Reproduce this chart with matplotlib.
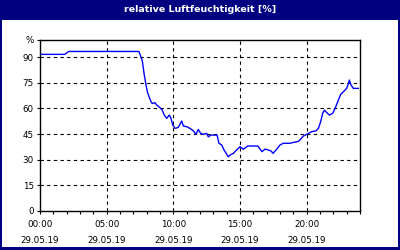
import matplotlib
matplotlib.use("Agg")
import matplotlib.pyplot as plt
from matplotlib.patches import Rectangle
from matplotlib.ticker import MultipleLocator

# hours since 00:00 on 29.05.19 and relative humidity in %
hours = [0, 1.85, 2.15, 7.42, 7.67, 7.8, 7.93, 8.05, 8.18, 8.33, 8.42, 8.63, 8.75,
         9.0, 9.17, 9.32, 9.5, 9.7, 9.83, 9.95, 10.13, 10.37, 10.63, 10.75, 11.0,
         11.25, 11.5, 11.7, 11.87, 12.05, 12.25, 12.5, 12.62, 12.83, 13.28, 13.42,
         13.63, 13.8, 14.12, 14.25, 14.5, 14.75, 15.0, 15.25, 15.58, 16.33, 16.65,
         16.88, 17.1, 17.33, 17.48, 17.75, 18.0, 18.25, 18.75, 19.0, 19.25, 19.4,
         19.75, 20.13, 20.38, 20.7, 20.88, 21.05, 21.2, 21.33, 21.45, 21.7, 21.95,
         22.13, 22.33, 22.55, 22.75, 23.0, 23.13, 23.2, 23.33, 23.5, 23.87]
humidity = [91.6, 91.6, 93.3, 93.3, 88, 80.6, 74.6, 69.7, 66.8, 63.9, 62.9, 63.3, 62,
            60.4, 59, 56.1, 54.2, 56.1, 54.2, 50.3, 48.3, 48.9, 52.6, 49.7, 49.3,
            48.3, 46.9, 44.8, 47.7, 45.4, 44.8, 45.4, 43.4, 44.4, 44.4, 39.6,
            38.6, 35.7, 31.7, 32.7, 33.7, 35.7, 37.6, 36.1, 38, 38, 34.7,
            36.2, 35.7, 35.1, 33.7, 36.1, 38.6, 39.6, 39.6, 40.1, 40.5, 40.8,
            43.8, 45.4, 46.4, 46.9, 48.3, 52.2, 57.1, 59, 58, 56.1, 57.1,
            60, 63.9, 68.2, 69.7, 71.7, 74.6, 76.6, 73.6, 71.7, 71.7]

x_ticks = [0, 5, 10, 15, 20]
x_labels = ["00:00\n29.05.19", "05:00\n29.05.19", "10:00\n29.05.19",
            "15:00\n29.05.19", "20:00\n29.05.19"]
y_ticks = [0, 15, 30, 45, 60, 75, 90, 100]
y_labels = ["0", "15", "30", "45", "60", "75", "90", "%"]

navy = "#000080"
fig = plt.figure(figsize=(4, 2.5), dpi=100)
fig.patch.set_facecolor(navy)
# white panel inside the navy frame
fig.add_artist(Rectangle((2 / 400, 3 / 250), 396 / 400, 227 / 250,
                         transform=fig.transFigure, facecolor="white",
                         edgecolor="none", zorder=0))
fig.text(0.5, 1 - 10 / 250, "relative Luftfeuchtigkeit [%]", color="white",
         ha="center", va="center", fontsize=6.8, fontweight="bold")

ax = fig.add_axes([40 / 400, 39 / 250, 320 / 400, 171 / 250])
ax.set_facecolor("white")
ax.plot(hours, humidity, color="#0000ff", lw=1.0)

ax.set_xlim(0, 24)
ax.set_ylim(0, 100)
ax.set_xticks(x_ticks)
ax.set_xticklabels(x_labels, linespacing=2.0)
ax.xaxis.set_minor_locator(MultipleLocator(1))
ax.set_yticks(y_ticks)
ax.set_yticklabels(y_labels)

ax.tick_params(axis="both", which="both", direction="out", length=2.5,
               width=0.8, labelsize=6.3, color="black")
ax.tick_params(axis="x", pad=4)
ax.tick_params(axis="y", pad=2)

for v in y_ticks[1:-1]:
    ax.axhline(v, color="black", lw=0.8, ls=(0, (3, 3)), zorder=1)
for h in x_ticks[1:]:
    ax.axvline(h, color="black", lw=0.8, ls=(0, (3, 3)), zorder=1)

for s in ax.spines.values():
    s.set_linewidth(1.0)
    s.set_color("black")

fig.savefig("out.png", dpi=100, facecolor=navy)
